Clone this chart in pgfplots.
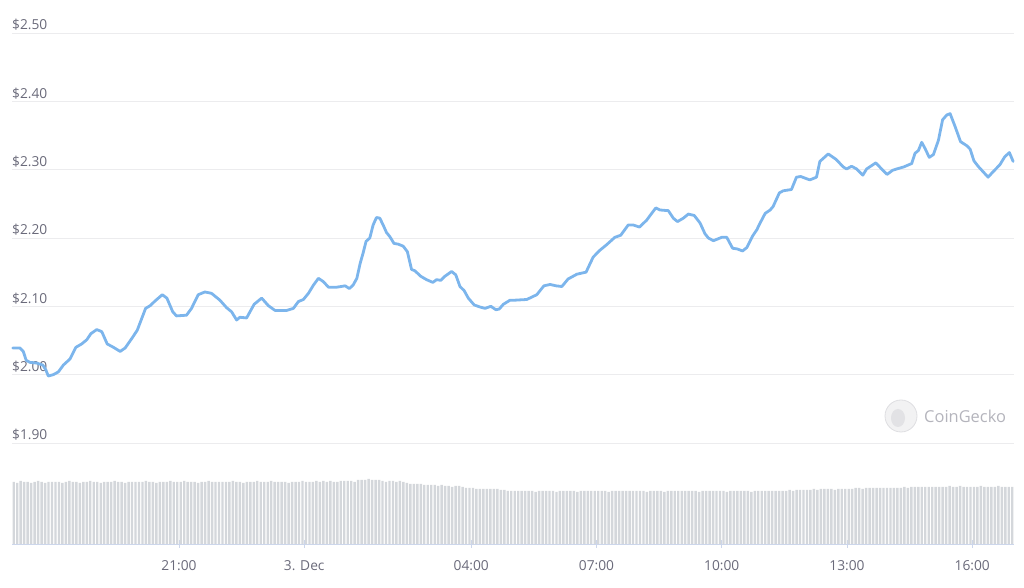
\documentclass[border=0pt]{standalone}
\usepackage{pgfplots}
\pgfplotsset{compat=1.18}
\usepackage{pgfplotstable}
\usepackage{fontspec}
\setmainfont{Open Sans}
\definecolor{linecol}{RGB}{124,181,236}
\definecolor{gridcol}{RGB}{236,236,238}
\definecolor{labcol}{RGB}{106,106,122}
\definecolor{volcol}{RGB}{212,215,219}
\definecolor{axcol}{RGB}{204,214,235}
\definecolor{wmcol}{RGB}{180,180,188}
\definecolor{wmfill}{RGB}{242,242,243}
\definecolor{wmdraw}{RGB}{222,222,225}
\definecolor{wminner}{RGB}{226,226,229}

\pgfplotstableread{
h p
17.02 2.039
17.19 2.039
17.27 2.034
17.34 2.021
17.43 2.018
17.59 2.017
17.74 2.014
17.81 2.007
17.87 1.998
17.99 2.000
18.11 2.004
18.23 2.014
18.39 2.023
18.53 2.040
18.67 2.045
18.79 2.051
18.89 2.060
19.03 2.066
19.15 2.063
19.28 2.045
19.43 2.040
19.59 2.034
19.71 2.039
19.87 2.053
20.00 2.065
20.20 2.097
20.31 2.101
20.43 2.108
20.60 2.117
20.71 2.112
20.85 2.092
20.94 2.086
21.18 2.087
21.30 2.097
21.46 2.117
21.62 2.121
21.78 2.119
21.98 2.109
22.14 2.098
22.26 2.092
22.38 2.080
22.46 2.084
22.62 2.083
22.70 2.092
22.80 2.103
22.98 2.112
23.14 2.101
23.30 2.094
23.58 2.094
23.74 2.097
23.86 2.107
23.98 2.110
24.10 2.119
24.22 2.131
24.34 2.141
24.46 2.136
24.58 2.128
24.78 2.128
24.98 2.130
25.08 2.126
25.17 2.131
25.26 2.141
25.34 2.163
25.41 2.178
25.48 2.195
25.57 2.200
25.65 2.219
25.73 2.230
25.81 2.229
25.89 2.219
25.97 2.208
26.05 2.202
26.15 2.192
26.25 2.191
26.37 2.188
26.47 2.180
26.57 2.154
26.65 2.152
26.79 2.144
26.93 2.139
27.08 2.135
27.17 2.139
27.27 2.138
27.37 2.144
27.53 2.151
27.63 2.146
27.73 2.129
27.83 2.123
27.93 2.112
28.07 2.102
28.21 2.099
28.33 2.097
28.47 2.100
28.59 2.095
28.67 2.096
28.77 2.103
28.93 2.109
29.05 2.109
29.33 2.110
29.57 2.117
29.74 2.130
29.89 2.132
30.03 2.130
30.17 2.129
30.32 2.140
30.53 2.147
30.75 2.150
30.92 2.172
31.08 2.182
31.24 2.190
31.44 2.201
31.58 2.204
31.76 2.219
31.88 2.219
32.03 2.216
32.20 2.226
32.42 2.244
32.52 2.241
32.72 2.240
32.84 2.229
32.94 2.224
33.08 2.229
33.20 2.235
33.34 2.233
33.48 2.222
33.60 2.206
33.68 2.200
33.80 2.196
34.00 2.201
34.12 2.201
34.26 2.185
34.37 2.184
34.50 2.181
34.60 2.186
34.74 2.203
34.84 2.212
34.92 2.222
35.04 2.236
35.16 2.241
35.23 2.246
35.38 2.266
35.47 2.269
35.67 2.271
35.79 2.289
35.89 2.290
36.11 2.285
36.27 2.289
36.35 2.312
36.55 2.323
36.74 2.315
36.91 2.304
36.99 2.301
37.11 2.305
37.23 2.301
37.38 2.292
37.47 2.301
37.69 2.310
37.83 2.301
37.96 2.293
38.09 2.299
38.19 2.301
38.36 2.304
38.55 2.309
38.63 2.324
38.71 2.328
38.79 2.340
38.87 2.331
38.97 2.318
39.07 2.322
39.19 2.343
39.29 2.373
39.39 2.380
39.47 2.382
39.59 2.363
39.72 2.341
39.87 2.335
39.95 2.330
40.04 2.313
40.14 2.305
40.26 2.297
40.38 2.289
40.50 2.297
40.66 2.307
40.78 2.319
40.89 2.325
40.98 2.312
}\pricetable

\pgfplotstableread[row sep=\\]{
v\\
62\\61\\63\\62\\62\\61\\62\\63\\62\\61\\62\\62\\
62\\62\\61\\62\\63\\62\\62\\61\\62\\62\\63\\62\\
62\\61\\62\\62\\62\\63\\62\\62\\61\\62\\62\\62\\
62\\62\\63\\62\\62\\61\\62\\62\\62\\63\\62\\62\\
62\\63\\62\\62\\62\\61\\62\\62\\63\\62\\62\\62\\
62\\62\\62\\63\\62\\62\\61\\62\\62\\62\\63\\62\\
62\\62\\63\\62\\62\\62\\62\\61\\62\\62\\62\\63\\
62\\62\\62\\63\\62\\63\\62\\63\\62\\62\\63\\63\\
63\\63\\62\\64\\64\\64\\65\\64\\64\\64\\63\\62\\
63\\63\\62\\63\\62\\61\\60\\60\\60\\60\\59\\59\\
59\\59\\58\\59\\58\\58\\57\\58\\58\\57\\56\\56\\
56\\55\\55\\55\\55\\55\\55\\55\\54\\54\\53\\53\\
53\\53\\53\\53\\53\\53\\52\\53\\53\\53\\53\\53\\
52\\53\\53\\53\\53\\53\\52\\53\\53\\53\\53\\53\\
53\\53\\53\\52\\53\\53\\53\\53\\53\\53\\53\\53\\
53\\53\\52\\53\\53\\53\\53\\52\\53\\53\\53\\53\\
53\\53\\53\\53\\53\\52\\53\\53\\53\\53\\53\\53\\
53\\52\\53\\53\\53\\53\\53\\53\\52\\53\\53\\53\\
53\\53\\53\\53\\53\\53\\53\\54\\53\\54\\54\\54\\
54\\54\\55\\54\\55\\55\\55\\55\\54\\55\\55\\55\\
55\\55\\56\\56\\55\\56\\56\\56\\56\\56\\56\\56\\
56\\56\\56\\56\\57\\56\\57\\57\\57\\57\\57\\57\\
57\\57\\57\\57\\57\\58\\57\\57\\58\\57\\57\\57\\
57\\57\\58\\57\\57\\57\\57\\58\\57\\57\\57\\57\\
}\voltable

\begin{document}
\begin{tikzpicture}[x=1bp,y=1bp]
\path[use as bounding box] (0,0) rectangle (1024,588);

% price panel
\begin{axis}[
  at={(12bp,145bp)}, anchor=south west,
  scale only axis, width=1002bp, height=410bp,
  xmin=17, xmax=41, ymin=1.90, ymax=2.50,
  axis line style={draw=none},
  xtick=\empty,
  ytick={1.9,2.0,2.1,2.2,2.3,2.4,2.5},
  yticklabels={\$1.90,\$2.00,\$2.10,\$2.20,\$2.30,\$2.40,\$2.50},
  ymajorgrids, grid style={gridcol, line width=0.9bp},
  major tick length=0pt,
  yticklabel style={anchor=south west, inner sep=0pt, yshift=2bp,
    font=\fontsize{13.8}{14}\selectfont, text=labcol},
  clip=false,
]
\addplot[linecol, line width=2.8bp, line join=round, line cap=round] table[x=h, y=p]{\pricetable};
\end{axis}

% volume panel
\begin{axis}[
  at={(12bp,44bp)}, anchor=south west,
  scale only axis, width=1002bp, height=70bp,
  xmin=17, xmax=41, ymin=0, ymax=70,
  axis x line=bottom, axis y line=none,
  axis line style={-, axcol, line width=0.8bp},
  xtick={21,24,28,31,34,37,40},
  xticklabels={21:00,3. Dec,04:00,07:00,10:00,13:00,16:00},
  xtick style={axcol, line width=0.8bp},
  major tick length=8bp,
  xticklabel style={anchor=north, inner sep=0pt, yshift=-12.5bp,
    font=\fontsize{13.8}{14}\selectfont, text=labcol},
  clip=false,
]
\addplot[ybar, bar width=0.058, fill=volcol, draw=none]
  table[x expr={17+\coordindex/12+1/24}, y=v]{\voltable};
\end{axis}

% watermark
\fill[wmfill] (901,172) circle (16);
\draw[wmdraw, line width=0.8bp] (901,172) circle (16);
\fill[wminner] (898,170) ellipse (7 and 9);
\node[anchor=west, inner sep=0pt, text=wmcol, font=\fontsize{16.5}{17}\selectfont] at (924,172) {CoinGecko};
\end{tikzpicture}
\end{document}
